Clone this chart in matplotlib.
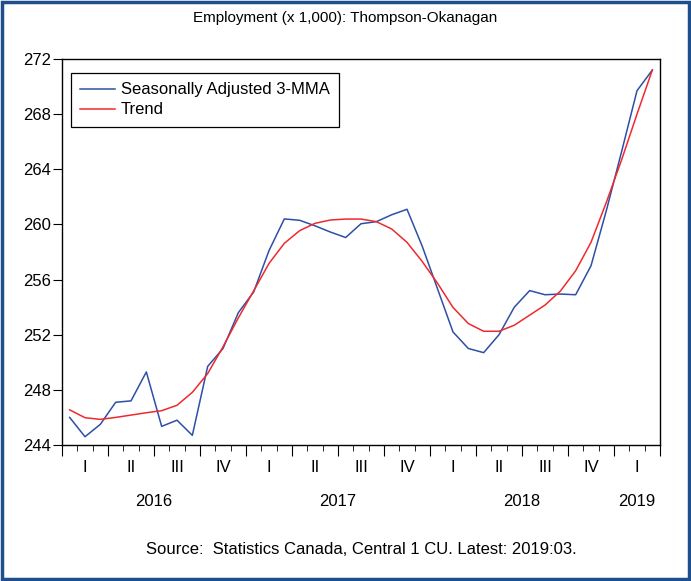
import matplotlib
matplotlib.use("Agg")
import matplotlib.pyplot as plt
from matplotlib.patches import Rectangle
from matplotlib.ticker import MultipleLocator
import numpy as np

plt.rcParams["font.family"] = ["Liberation Sans", "DejaVu Sans"]

# monthly, Jan 2016 .. Mar 2019
sa_3mma = [246.0, 244.6, 245.5, 247.1, 247.2, 249.3, 245.35, 245.8, 244.7, 249.7,
           251.0, 253.6, 255.1, 258.1, 260.4, 260.3, 259.9, 259.45, 259.05, 260.05,
           260.2, 260.7, 261.1, 258.4, 255.3, 252.2, 251.0, 250.7, 252.0, 254.0,
           255.2, 254.9, 254.95, 254.9, 257.0, 261.0, 265.3, 269.7, 271.2]
trend = [246.55, 245.98, 245.86, 246.0, 246.17, 246.34, 246.49, 246.88, 247.82, 249.18,
         251.12, 253.22, 255.18, 257.17, 258.63, 259.55, 260.08, 260.32, 260.39, 260.39,
         260.2, 259.67, 258.7, 257.3, 255.72, 253.98, 252.81, 252.25, 252.25, 252.69,
         253.42, 254.15, 255.16, 256.64, 258.7, 261.6, 264.7, 268.0, 271.2]
quarters = ["I", "II", "III", "IV"] * 3 + ["I"]
years = ["2016", "2017", "2018", "2019"]
year_months = [12, 12, 12, 3]

n = len(sa_3mma)
x = np.arange(n) + 0.5  # points sit in the middle of each month

fig = plt.figure(figsize=(6.91, 5.81), dpi=100)
ax = fig.add_axes([62 / 691, 1 - 445 / 581, 598 / 691, 386 / 581])

ax.plot(x, sa_3mma, color="#2F4FA6", lw=1.1, label="Seasonally Adjusted 3-MMA")
ax.plot(x, trend, color="#EE2A2E", lw=1.1, label="Trend")

ax.set_xlim(0, n)
ax.set_ylim(244, 272)
ax.yaxis.set_major_locator(MultipleLocator(4))
ax.tick_params(axis="y", direction="out", length=6.5, labelsize=12, pad=1.5)

# x axis: long ticks at quarter boundaries, short ticks at months
ax.set_xticks(np.arange(0, n + 1, 3))
ax.set_xticks(np.arange(0, n + 1, 1), minor=True)
ax.set_xticklabels([])
ax.tick_params(axis="x", which="major", direction="out", length=8)
ax.tick_params(axis="x", which="minor", direction="out", length=4.5)

trans = ax.get_xaxis_transform()
for i, q in enumerate(quarters):
    ax.text(i * 3 + 1.5, -0.059, q, transform=trans, ha="center", va="center", fontsize=12)
start = 0
for yr, m in zip(years, year_months):
    ax.text(start + m / 2, -0.147, yr, transform=trans, ha="center", va="center", fontsize=12)
    start += m

for s in ax.spines.values():
    s.set_linewidth(1.0)
    s.set_color("black")

leg = ax.legend(loc="upper left", bbox_to_anchor=(0.0145, 0.963), borderaxespad=0,
                fancybox=False, edgecolor="black", framealpha=1, fontsize=12,
                handlelength=2.1, handletextpad=0.35, labelspacing=0.3,
                borderpad=0.55)
leg.get_frame().set_linewidth(0.9)

fig.text(0.5, 1 - 18 / 581, "Employment (x 1,000): Thompson-Okanagan",
         ha="center", va="center", fontsize=11)
fig.text(361 / 691, 1 - 550 / 581, "Source:  Statistics Canada, Central 1 CU. Latest: 2019:03.",
         ha="center", va="center", fontsize=12)

# dark blue frame round the whole picture
fig.patches.append(Rectangle((0.003, 0.003), 0.994, 0.994, transform=fig.transFigure,
                             fill=False, edgecolor="#1F4E8C", lw=2.5))

fig.savefig("out.png", dpi=100)
